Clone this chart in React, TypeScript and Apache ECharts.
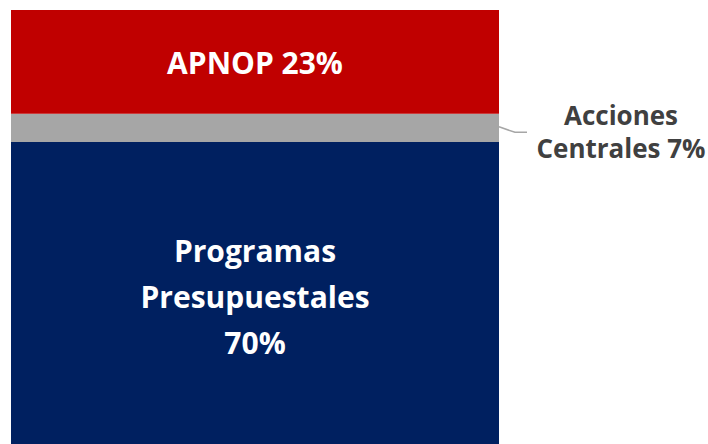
import React, { useEffect, useRef } from "react";
import * as echarts from "echarts";

// Segment names (bottom to top)
const segmentNames = ["Programas Presupuestales", "Acciones Centrales", "APNOP"];
// Share of bar height as drawn in the picture
const segmentValues = [69.6, 6.5, 23.9];
// Percent labels printed on the chart
const segmentPct = [70, 7, 23];
const categories = ["Total"];

const colors = ["#002060", "#A6A6A6", "#C00000"];

export default function App() {
  const ref = useRef<HTMLDivElement>(null);
  useEffect(() => {
    if (!ref.current) return;
    const chart = echarts.init(ref.current, undefined, { renderer: "svg" });
    const font = "'Open Sans', sans-serif";
    const option: any = {
      animation: false,
      grid: { left: 11, top: 10, right: 209, bottom: 0 },
      xAxis: { type: "category", data: categories, show: false },
      yAxis: { type: "value", min: 0, max: 100, show: false },
      series: [
        {
          name: segmentNames[0],
          type: "bar",
          stack: "s",
          barWidth: "100%",
          data: [segmentValues[0]],
          itemStyle: { color: colors[0] },
          label: {
            show: true,
            position: "inside",
            formatter: `Programas\nPresupuestales\n${segmentPct[0]}%`,
            color: "#ffffff",
            fontFamily: font,
            fontWeight: "bold",
            fontSize: 30,
            lineHeight: 46,
            offset: [0, 4],
          },
        },
        {
          name: segmentNames[1],
          type: "bar",
          stack: "s",
          barWidth: "100%",
          data: [segmentValues[1]],
          itemStyle: { color: colors[1] },
          label: {
            show: true,
            position: "right",
            distance: 122,
            align: "center",
            formatter: `Acciones\nCentrales ${segmentPct[1]}%`,
            color: "#404040",
            fontFamily: font,
            fontWeight: "bold",
            fontSize: 26,
            lineHeight: 33,
            offset: [0, 4],
          },
        },
        {
          name: segmentNames[2],
          type: "bar",
          stack: "s",
          barWidth: "100%",
          data: [segmentValues[2]],
          itemStyle: { color: colors[2] },
          label: {
            show: true,
            position: "inside",
            formatter: `${segmentNames[2]} ${segmentPct[2]}%`,
            color: "#ffffff",
            fontFamily: font,
            fontWeight: "bold",
            fontSize: 30,
            offset: [0, 1],
          },
        },
      ],
    };
    chart.setOption(option);
    // leader line for the grey segment, located via the chart's own scales
    const base = segmentValues[0];
    const mid = base + segmentValues[1] / 2;
    const p = chart.convertToPixel({ gridIndex: 0 }, [0, mid]) as number[];
    const rightEdge = chart.convertToPixel({ gridIndex: 0 }, [0, 0]) as number[];
    const barWidthPx = 488;
    const xr = rightEdge[0] + barWidthPx / 2;
    chart.setOption({
      graphic: [
        {
          type: "polyline",
          shape: {
            points: [
              [xr, p[1] - 1],
              [xr + 16, p[1] + 4.5],
              [xr + 28, p[1] + 4.5],
            ],
          },
          style: { stroke: "#A6A6A6", lineWidth: 1.5, fill: "none" },
        },
      ],
    });
    return () => chart.dispose();
  }, []);
  return (
    <div
      ref={ref}
      style={{ position: "absolute", left: 0, top: 0, width: 708, height: 444 }}
    />
  );
}
